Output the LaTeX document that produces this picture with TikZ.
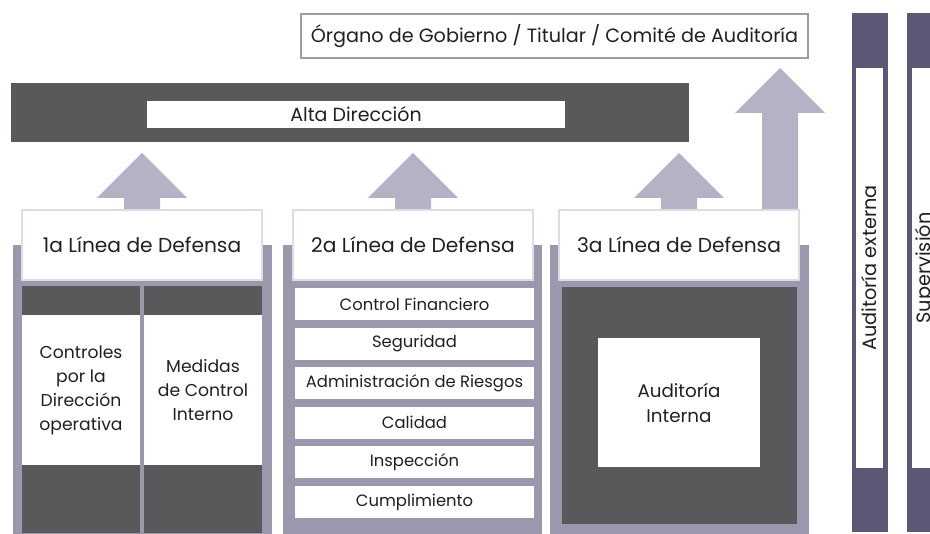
\documentclass[tikz,border=0pt]{standalone}
\usepackage{fontspec}
\setmainfont{Poppins}
\usetikzlibrary{calc,backgrounds}

\definecolor{darkbar}{HTML}{58595B}
\definecolor{arrowgray}{HTML}{B4B3C5}
\definecolor{colgray}{HTML}{9B98AD}
\definecolor{sidepurple}{HTML}{5D5775}
\definecolor{framegray}{HTML}{9D9D9F}
\definecolor{boxedge}{HTML}{DCDCE6}
\definecolor{inktext}{HTML}{231F20}

% block arrow pointing up: #1 base point, #2 total length
\newcommand{\blockarrow}[2]{%
    \fill[arrowgray] ($(#1)+(-18,0)$) -- ++(0,{-(#2-45)}) -- ++(-27,0)
        -- ++(45,-45) -- ++(45,45) -- ++(-27,0) -- ++(0,{#2-45}) -- cycle;}

\begin{document}
\begin{tikzpicture}[x=1pt,y=-1pt,
    every node/.style={inner sep=0pt, outer sep=0pt, align=center, text=inktext},
    block/.style={rectangle, anchor=north west},
    linebox/.style={rectangle, fill=white, draw=boxedge, line width=1.5pt,
        minimum width=240pt, minimum height=70pt, anchor=north west,
        font=\fontsize{20.2}{24}\selectfont},
    itembox/.style={rectangle, fill=white, minimum width=239pt, minimum height=32pt,
        font=\fontsize{16.4}{19}\selectfont},
    celltext/.style={rectangle, fill=white, minimum width=118pt, minimum height=150pt,
        anchor=north west, font=\fontsize{17.2}{24}\selectfont},
    sidebar/.style={rectangle, fill=sidepurple, minimum width=36pt, minimum height=519pt,
        anchor=north west},
    sidetext/.style={rectangle, fill=white, minimum width=27pt, minimum height=400pt,
        anchor=north west, font=\fontsize{19.3}{22}\selectfont}]

    \useasboundingbox (0,0) rectangle (930,534);
    \clip (0,0) rectangle (930,534);

    % top boxes
    \node[rectangle, draw=framegray, line width=2pt, fill=white, minimum width=507pt,
        minimum height=44pt, font=\fontsize{19.2}{22}\selectfont]
        (organo) at (554.5,36) {Órgano de Gobierno / Titular / Comité de Auditoría};
    \node[block, fill=darkbar, minimum width=678pt, minimum height=59pt] (alta) at (11,83) {};
    \node[rectangle, fill=white, minimum width=418pt, minimum height=27pt,
        font=\fontsize{19}{22}\selectfont] (altatxt) at (356,114.5) {Alta Dirección};

    % column backgrounds
    \foreach \x [count=\c] in {13,283,550} {
        \node[block, fill=colgray, minimum width=259pt, minimum height=290pt] (col\c) at (\x,245) {};
    }

    % the three lines of defence
    \node[linebox] (l1) at (22,210) {1a Línea de Defensa};
    \node[linebox] (l2) at (293,210) {2a Línea de Defensa};
    \node[linebox] (l3) at (559,210) {3a Línea de Defensa};

    % arrows up, behind the boxes
    \coordinate (bigbase) at ($(l3.north east)+(-19,0)$);
    \begin{scope}[on background layer]
        \blockarrow{l1.north}{57}
        \blockarrow{l2.north}{57}
        \blockarrow{l3.north}{57}
        \blockarrow{bigbase}{142}
    \end{scope}

    % first line
    \node[block, fill=darkbar, minimum width=118pt, minimum height=247pt] (c1a) at (22,286) {};
    \node[block, fill=darkbar, minimum width=118pt, minimum height=247pt] (c1b) at (144,286) {};
    \node[celltext] (ctrl) at (22,315) {Controles\\por la\\Dirección\\operativa};
    \node[celltext] (medidas) at (144,315) {Medidas\\de Control\\Interno};

    % second line
    \foreach \t [count=\i from 0] in {Control Financiero, Seguridad,
        Administración de Riesgos, Calidad, Inspección, Cumplimiento} {
        \node[itembox] (item\i) at (414.5,{304+39.6*\i}) {\t};
    }

    % third line
    \node[block, fill=darkbar, minimum width=235pt, minimum height=237pt] (c3) at (562,287) {};
    \node[block, fill=white, minimum width=162pt, minimum height=129pt,
        font=\fontsize{18.3}{25}\selectfont] (audint) at (598,338) {Auditoría\\Interna};

    % side bars
    \node[sidebar] (ext) at (852,13) {};
    \node[sidetext] (exttxt) at (856,68) {\rotatebox{90}{Auditoría externa}};
    \node[sidebar] (sup) at (907,13) {};
    \node[sidetext] (suptxt) at (912,68) {\rotatebox{90}{Supervisión}};

\end{tikzpicture}
\end{document}
